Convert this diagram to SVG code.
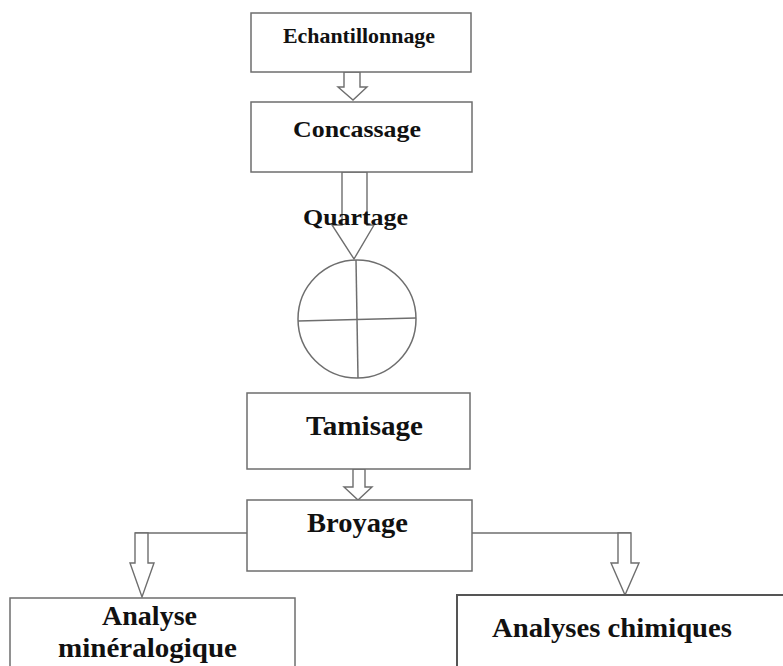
<svg xmlns="http://www.w3.org/2000/svg" width="783" height="666" viewBox="0 0 783 666">
<style>
.box{fill:#fff;stroke:#6e6e6e;stroke-width:1.5}
.arr{fill:#fff;stroke:#6e6e6e;stroke-width:1.4;stroke-linejoin:miter}
.ln{fill:none;stroke:#6e6e6e;stroke-width:1.5}
text{font-family:"Liberation Serif","Times New Roman",serif;font-weight:bold;fill:#111;text-anchor:middle}
</style>
<rect width="783" height="666" fill="#fff"/>
<g id="connectors">
<polygon class="arr" points="344,72 360,72 360,87 367,87 353,100 338,87 344,87"/>
<polygon class="arr" points="342,172 367,172 367,225 374,225 354,259 332,225 342,225"/>
<polygon class="arr" points="353,469 365,469 365,487 372,487 358,500 344,487 353,487"/>
<polyline class="ln" points="247,533 135,533"/>
<polygon class="arr" points="135,533 148,533 148,563 154,563 142,597 130,563 135,563"/>
<polyline class="ln" points="472,533 631,533"/>
<polygon class="arr" points="618,533 631,533 631,563 639,563 625,595 611,563 618,563"/>
</g>
<g id="echantillonnage">
<rect class="box" x="251" y="13" width="220" height="59"/>
<text x="359" y="43" font-size="21" textLength="152" lengthAdjust="spacingAndGlyphs">Echantillonnage</text>
</g>
<g id="concassage">
<rect class="box" x="251" y="102" width="221" height="70"/>
<text x="357" y="137" font-size="24" textLength="128" lengthAdjust="spacingAndGlyphs">Concassage</text>
</g>
<g id="quartage">
<circle class="ln" cx="357" cy="319" r="59"/>
<line class="ln" x1="298" y1="321" x2="416" y2="318"/>
<line class="ln" x1="356" y1="260" x2="358" y2="378"/>
<text x="355.5" y="225" font-size="24" textLength="105" lengthAdjust="spacingAndGlyphs">Quartage</text>
</g>
<g id="tamisage">
<rect class="box" x="247" y="393" width="223" height="76"/>
<text x="364.5" y="435" font-size="27" textLength="117" lengthAdjust="spacingAndGlyphs">Tamisage</text>
</g>
<g id="broyage">
<rect class="box" x="247" y="500" width="225" height="71"/>
<text x="357.5" y="532" font-size="27" textLength="101" lengthAdjust="spacingAndGlyphs">Broyage</text>
</g>
<g id="analyse-mineralogique">
<rect class="box" x="10" y="598" width="285" height="90"/>
<text x="149.5" y="625" font-size="27" textLength="95" lengthAdjust="spacingAndGlyphs">Analyse</text>
<text x="147.5" y="657" font-size="27" textLength="179" lengthAdjust="spacingAndGlyphs">minéralogique</text>
</g>
<g id="analyses-chimiques">
<path d="M457,680 V595 H783" fill="#fff" stroke="#555" stroke-width="2"/>
<text x="612" y="637" font-size="27" textLength="240" lengthAdjust="spacingAndGlyphs">Analyses chimiques</text>
</g>
</svg>
